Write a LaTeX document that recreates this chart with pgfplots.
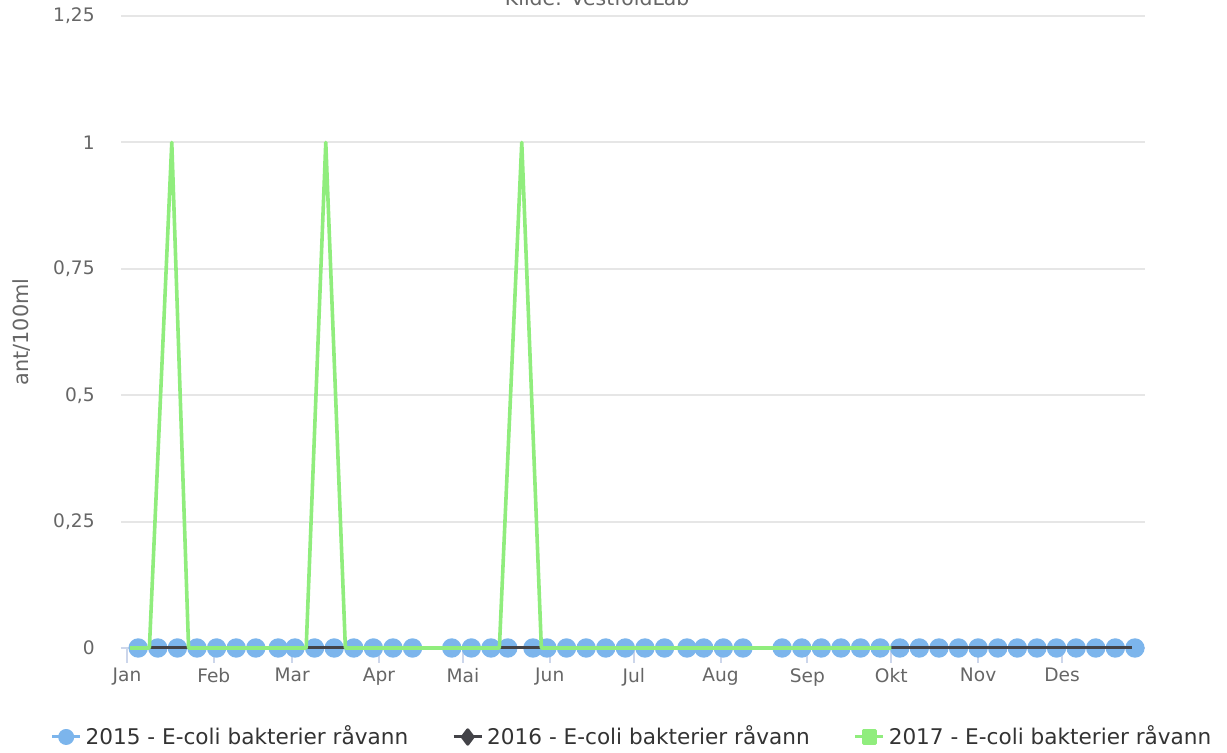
\documentclass[border=0pt]{standalone}
\usepackage{fontspec}
\setmainfont{DejaVu Sans}
\usepackage{pgfplots}
\pgfplotsset{compat=1.18}
\definecolor{c15}{HTML}{7CB5EC}
\definecolor{c16}{HTML}{434348}
\definecolor{c17}{HTML}{90ED7D}
\definecolor{gridc}{HTML}{E6E6E6}
\definecolor{axc}{HTML}{CCD6EB}
\definecolor{lab}{HTML}{666666}
\definecolor{legc}{HTML}{333333}
\begin{document}
\begin{tikzpicture}
\path[use as bounding box, clip] (-60.5pt,-52.5pt) rectangle (553pt,324pt);
\begin{axis}[
  at={(0pt,0pt)}, anchor=south west,
  scale only axis, width=512pt, height=316pt,
  xmin=-2.14, xmax=363.6, ymin=0, ymax=1.25,
  clip=false, clip marker paths=true,
  axis x line*=bottom, axis y line*=left,
  x axis line style={axc, line width=1pt, -},
  y axis line style={draw=none},
  xtick={0,31,59,90,120,151,181,212,243,273,304,334},
  xticklabels={Jan,Feb,Mar,Apr,Mai,Jun,Jul,Aug,Sep,Okt,Nov,Des},
  ytick={0,0.25,0.5,0.75,1,1.25},
  yticklabels={0,{0,25},{0,5},{0,75},1,{1,25}},
  tick align=outside,
  major tick length=7.5pt,
  xtick style={axc, line width=1pt},
  ytick style={draw=none},
  xticklabel style={font=\fontsize{9.3}{10}\selectfont, text=lab, anchor=north, inner sep=0pt, yshift=-2.5pt},
  yticklabel style={font=\fontsize{9.3}{10}\selectfont, text=lab, anchor=east, inner sep=0pt, xshift=-5.5pt},
  ymajorgrids, grid style={gridc, line width=1pt},
  every axis title shift=0pt,
  title={Kilde: VestfoldLab},
  title style={at={(axis description cs:0.465,1.017)}, anchor=base, font=\fontsize{10.2}{12}\selectfont, text=lab, inner sep=0pt},
  ylabel={ant/100ml},
  ylabel style={at={(axis description cs:-0.0967,0.5)}, anchor=center, font=\fontsize{10.4}{12}\selectfont, text=lab, inner sep=0pt},
  legend style={at={(axis description cs:0.5,-0.1408)}, anchor=center, draw=none, fill=none,
    font=\fontsize{10.8}{12}\selectfont, text=legc, inner sep=0pt,
    /tikz/every even column/.append style={column sep=20pt}},
  legend columns=3,
  legend cell align=left,
]
\addplot[c15, line width=1.5pt, line join=round, mark=*, mark size=4.1pt, mark options={draw=none, fill=c15},
  legend image code/.code={\draw[c15, line width=1.5pt] plot[mark=*, mark size=3.25pt, mark options={draw=none,fill=c15}, mark repeat=2, mark phase=2] coordinates {(0pt,0pt) (7pt,0pt) (14pt,0pt)};}]
coordinates {
(4,0) (11,0) (18,0) (25,0) (32,0) (39,0) (46,0) (54,0) (60,0) (67,0) (74,0) (81,0) (88,0) (95,0) (102,0)
(116,0) (123,0) (130,0) (136,0) (145,0) (150,0) (157,0) (164,0) (171,0) (178,0) (185,0) (192,0) (200,0) (206,0) (213,0) (220,0)
(234,0) (241,0) (248,0) (255,0) (262,0) (269,0) (276,0) (283,0) (290,0) (297,0) (304,0) (311,0) (318,0) (325,0) (332,0) (339,0) (346,0) (353,0) (360,0)
};
\addlegendentry{2015 - E-coli bakterier råvann}
\addplot[c16, line width=1.5pt, line join=round, mark=none,
  legend image code/.code={\draw[c16, line width=1.5pt] plot[mark=diamond*, mark size=3.6pt, mark options={draw=none,fill=c16}, mark repeat=2, mark phase=2] coordinates {(0pt,0pt) (7pt,0pt) (14pt,0pt)};}]
coordinates {
(1,0) (8,0) (15,0) (22,0) (29,0) (36,0) (43,0) (50,0) (57,0) (64,0) (71,0) (78,0) (85,0) (92,0) (99,0) (106,0)
(113,0) (120,0) (127,0) (134,0) (141,0) (148,0) (155,0) (162,0) (169,0) (176,0) (183,0) (190,0) (197,0) (204,0)
(211,0) (218,0) (225,0) (232,0) (239,0) (246,0) (253,0) (260,0) (267,0) (274,0) (281,0) (288,0) (295,0) (302,0)
(309,0) (316,0) (323,0) (330,0) (337,0) (344,0) (351,0) (359,0)
};
\addlegendentry{2016 - E-coli bakterier råvann}
\addplot[c17, line width=1.8pt, line join=round, mark=none,
  legend image code/.code={\draw[c17, line width=1.5pt] plot[mark=square*, mark size=3.1pt, mark options={draw=none,fill=c17}, mark repeat=2, mark phase=2] coordinates {(0pt,0pt) (7pt,0pt) (14pt,0pt)};}]
coordinates {
(1,0) (8,0) (16,1) (22,0) (29,0) (36,0) (43,0) (50,0) (57,0) (64,0) (71,1) (78,0) (85,0) (92,0) (99,0) (106,0)
(113,0) (120,0) (127,0) (133,0) (141,1) (148,0) (155,0) (162,0) (169,0) (176,0) (183,0) (190,0) (197,0) (204,0)
(211,0) (218,0) (225,0) (232,0) (239,0) (246,0) (253,0) (260,0) (267,0) (273,0)
};
\addlegendentry{2017 - E-coli bakterier råvann}
\end{axis}
\end{tikzpicture}
\end{document}
